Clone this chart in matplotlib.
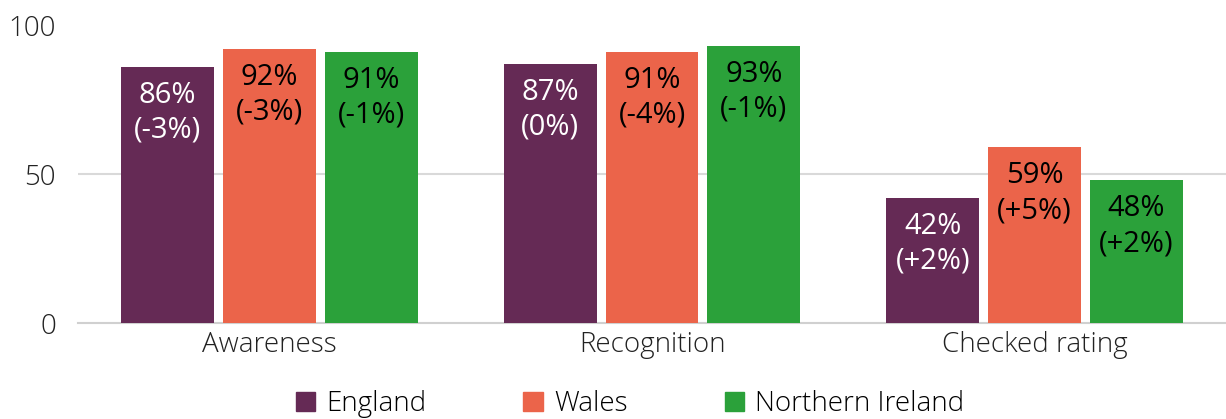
import numpy as np
import matplotlib.pyplot as plt
from matplotlib.patches import Patch

plt.rcParams['font.family'] = ['Open Sans', 'DejaVu Sans']

categories = ['Awareness', 'Recognition', 'Checked rating']
nations = ['England', 'Wales', 'Northern Ireland']
values = {
    'England': [86, 87, 42],
    'Wales': [92, 91, 59],
    'Northern Ireland': [91, 93, 48],
}
changes = {
    'England': ['-3%', '0%', '+2%'],
    'Wales': ['-3%', '-4%', '+5%'],
    'Northern Ireland': ['-1%', '-1%', '+2%'],
}
colors = ['#652A55', '#EB644A', '#2BA13A']
text_colors = ['white', 'black', 'black']

fig = plt.figure(figsize=(12.26, 4.19), dpi=100)
ax = fig.add_axes([78 / 1226, 1 - 323 / 419, 1148 / 1226, 298 / 419])

x = np.arange(len(categories))
pitch = 0.266
width = 0.243
for i, n in enumerate(nations):
    pos = x + (i - 1) * pitch
    ax.bar(pos, values[n], width, color=colors[i], zorder=3)
    for p, v, c in zip(pos, values[n], changes[n]):
        ax.annotate(f'{v}%\n({c})', (p, v), xytext=(0, -10), textcoords='offset points',
                    ha='center', va='top', fontsize=21, color=text_colors[i],
                    linespacing=1.28, zorder=4)

ax.set_xlim(-0.5, 2.5)
ax.set_ylim(0, 100)
ax.set_yticks([0, 50, 100])
ax.set_xticks(x)
ax.set_xticklabels(categories)
ax.tick_params(axis='both', length=0, labelsize=20, colors='#222222')
ax.tick_params(axis='y', pad=16)
ax.tick_params(axis='x', pad=6)
for lab in ax.get_xticklabels() + ax.get_yticklabels():
    lab.set_fontweight('light')
ax.axhline(50, color='#d9d9d9', linewidth=1.5, zorder=0)
for s in ['top', 'right', 'left']:
    ax.spines[s].set_visible(False)
ax.spines['bottom'].set_color('#d0d0d0')
ax.spines['bottom'].set_linewidth(1.5)

handles = [Patch(color=c, label=n) for c, n in zip(colors, nations)]
fig.legend(handles=handles, loc='center', bbox_to_anchor=(630 / 1226, 15 / 419),
           ncol=3, frameon=False, handlelength=0.7, handleheight=0.7,
           handletextpad=0.4, columnspacing=3.5, prop={'weight': 'light', 'size': 20})

fig.savefig('out.png', dpi=100)
